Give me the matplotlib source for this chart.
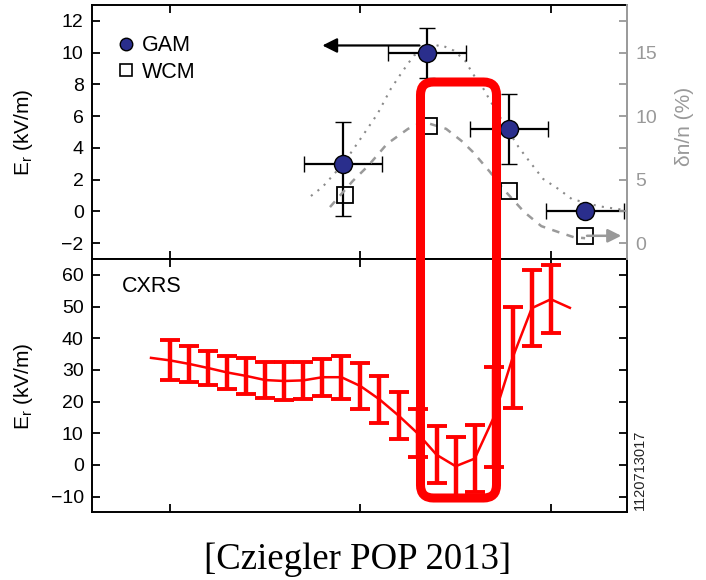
import matplotlib

matplotlib.use("Agg")
import matplotlib.pyplot as plt
import numpy as np
from matplotlib.lines import Line2D
from matplotlib.patches import FancyBboxPatch

plt.rcParams["font.family"] = ["Liberation Sans", "DejaVu Sans"]

# GAM radial field amplitude (left axis, kV/m)
gam_x = [-1.09, -0.65, -0.22, 0.18]
gam_er = [3.0, 10.0, 5.2, 0.0]
gam_er_lo = [3.3, 1.6, 2.2, 0.0]
gam_er_hi = [2.6, 1.55, 2.2, 0.0]
gam_xerr = [0.205, 0.205, 0.205, 0.205]

# WCM density fluctuation level (right axis, %)
wcm_x = [-1.08, -0.64, -0.22, 0.18]
wcm_dn = [3.8, 9.2, 4.1, 0.6]

# profile fits through the two data sets
gam_fit_x = [-1.26, -1.20, -1.09, -0.99, -0.91, -0.84, -0.78, -0.72, -0.65,
             -0.58, -0.51, -0.45, -0.41, -0.36, -0.32, -0.23, -0.17, -0.11,
             -0.04, 0.04, 0.11, 0.25, 0.35, 0.40]
gam_fit_y = [0.97, 1.53, 3.0, 4.74, 6.15, 7.73, 8.80, 9.81, 10.25,
             10.50, 10.13, 9.49, 8.67, 7.85, 7.0, 5.2, 4.06, 3.11,
             2.04, 1.41, 0.78, 0.33, 0.15, 0.08]
wcm_fit_x = [-1.16, -1.04, -0.96, -0.86, -0.75, -0.67, -0.55, -0.47, -0.41,
             -0.32, -0.25, -0.14, -0.05, 0.04, 0.12, 0.18]
wcm_fit_y = [2.84, 4.90, 6.08, 7.82, 9.00, 9.56, 9.00, 8.06, 7.19,
             5.61, 4.27, 2.45, 1.34, 0.87, 0.47, 0.39]

# CXRS radial electric field profile (kV/m); end points carry no error bar
cxrs_x = [-2.1, -2.0, -1.9, -1.8, -1.7, -1.6, -1.5, -1.4, -1.3, -1.2, -1.1, -1.0,
          -0.9, -0.8, -0.7, -0.6, -0.5, -0.4, -0.3, -0.2, -0.1, 0.0, 0.1]
cxrs_er = [33.8, 33.0, 31.9, 30.6, 29.2, 28.1, 26.8, 26.5, 26.7, 27.7, 27.7, 24.9,
           20.7, 15.6, 10.0, 3.2, -0.4, 2.0, 15.0, 34.0, 49.5, 52.3, 49.6]
cxrs_err = [np.nan, 6.3, 5.7, 5.4, 5.2, 5.7, 5.7, 6.0, 5.8, 5.8, 6.8, 7.3,
            7.4, 7.4, 7.6, 9.0, 9.3, 10.6, 15.8, 16.0, 12.0, 10.7, np.nan]

gam_color = "#2a2e8c"
grey = "#999999"
er_label = r"E$_\mathregular{r}$ (kV/m)"

fig = plt.figure(figsize=(7.06, 5.80), dpi=100)
ax_top = fig.add_axes([0.1303, 0.5534, 0.7578, 0.4380])
ax_bot = fig.add_axes([0.1303, 0.1164, 0.7578, 0.4370], sharex=ax_top)
ax_dn = ax_top.twinx()

# --- upper panel: GAM and WCM ---
ax_top.plot(gam_fit_x, gam_fit_y, color="#8a8a8a", lw=1.5, ls=(0, (1, 3)), zorder=1)
ax_top.errorbar(gam_x, gam_er, yerr=[gam_er_lo, gam_er_hi], xerr=gam_xerr,
                fmt="o", ms=13, mfc=gam_color, mec="black", mew=1.0,
                ecolor="black", elinewidth=1.6, capsize=5.5, capthick=2.2, zorder=3)
ax_top.annotate("", xy=(-1.2, 10.45), xytext=(-0.69, 10.45),
                arrowprops=dict(arrowstyle="-|>", color="black", lw=1.6,
                                mutation_scale=22, shrinkA=0, shrinkB=0))

ax_dn.plot(wcm_fit_x, wcm_fit_y, color="#9a9a9a", lw=1.8, ls=(0, (3, 3)), zorder=1)
ax_dn.plot(wcm_x, wcm_dn, "s", ms=12, mfc="none", mec="black", mew=1.3, zorder=3)
ax_dn.annotate("", xy=(0.37, 0.58), xytext=(0.19, 0.58),
               arrowprops=dict(arrowstyle="-|>", color=grey, lw=1.8,
                               mutation_scale=20, shrinkA=0, shrinkB=0))

ax_top.set_xlim(-2.41, 0.40)
ax_top.set_ylim(-3, 13)
ax_top.set_yticks(np.arange(-2, 13, 2))
ax_top.set_ylabel(er_label, fontsize=15)
ax_top.yaxis.set_label_coords(-0.106, 0.5)

ax_dn.set_ylim(-1.25, 18.75)
dn_ticks = np.arange(0, 18, 2.5)
ax_dn.set_yticks(dn_ticks, [f"{t:g}" if t % 5 == 0 else "" for t in dn_ticks])
ax_dn.set_ylabel("δn/n (%)", fontsize=15, color=grey)
ax_dn.yaxis.set_label_coords(1.09, 0.52)
ax_dn.tick_params(axis="y", direction="in", length=6, width=1.3,
                  colors=grey, labelsize=14, pad=6)
ax_dn.spines["right"].set_color(grey)
ax_top.spines["right"].set_visible(False)

legend_handles = [
    Line2D([], [], ls="none", marker="o", ms=9, mfc=gam_color, mec="black"),
    Line2D([], [], ls="none", marker="s", ms=8, mfc="none", mec="black", mew=1.2),
]
ax_top.legend(legend_handles, ["GAM", "WCM"], loc="upper left", frameon=False,
              fontsize=15.5, handlelength=0.8, handletextpad=0.3,
              labelspacing=0.25, borderaxespad=0.3, bbox_to_anchor=(0.02, 0.94))

# --- lower panel: CXRS ---
ax_bot.plot(cxrs_x, cxrs_er, color="red", lw=1.8, zorder=2)
ax_bot.errorbar(cxrs_x, cxrs_er, yerr=cxrs_err, fmt="none", ecolor="red",
                elinewidth=3.2, capsize=7, capthick=2.8, zorder=2)
ax_bot.set_ylim(-15, 65)
ax_bot.set_yticks(np.arange(-10, 61, 10))
ax_bot.set_ylabel(er_label, fontsize=15)
ax_bot.yaxis.set_label_coords(-0.106, 0.5)
ax_bot.text(0.056, 0.89, "CXRS", transform=ax_bot.transAxes, fontsize=15.5,
            va="center", ha="left")
ax_bot.text(1.024, 0.17, "1120713017", transform=ax_bot.transAxes, fontsize=10.5,
            rotation=90, va="center", ha="center", color="#222222")

for ax in (ax_top, ax_bot):
    ax.set_xticks([-2, -1, 0])
    ax.tick_params(axis="x", direction="in", length=6, width=1.3,
                   top=True, bottom=True, labelbottom=False)
    ax.tick_params(axis="y", direction="in", length=6, width=1.3,
                   labelsize=14, pad=6)
    for side in ("left", "top", "bottom"):
        ax.spines[side].set_linewidth(1.4)
ax_bot.tick_params(axis="y", right=True)
ax_bot.spines["right"].set_linewidth(1.4)
ax_dn.spines["right"].set_linewidth(1.4)
for side in ("left", "top", "bottom"):
    ax_dn.spines[side].set_visible(False)

# highlight box spanning both panels (figure inches)
box = FancyBboxPatch((4.205, 0.82), 0.76, 4.16,
                     boxstyle="round,pad=0,rounding_size=0.13",
                     transform=fig.dpi_scale_trans, fill=False,
                     ec="red", lw=6.5, zorder=5)
fig.add_artist(box)

fig.text(0.506, 0.019, "[Cziegler POP 2013]", ha="center", va="baseline",
         fontsize=26.5, family=["Liberation Serif", "DejaVu Serif"])

fig.savefig("out.png", dpi=100)
